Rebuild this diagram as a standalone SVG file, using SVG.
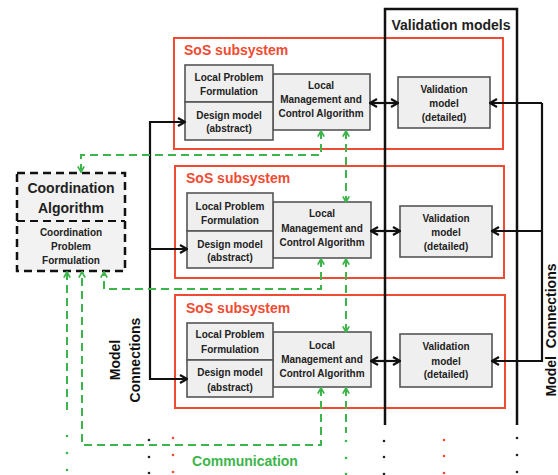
<svg xmlns="http://www.w3.org/2000/svg" width="558" height="475" viewBox="0 0 558 475">
<defs>
<marker id="ab" viewBox="0 0 10 10" refX="9" refY="5" markerWidth="10" markerHeight="10" markerUnits="userSpaceOnUse" orient="auto-start-reverse">
<path d="M2,1 L9,5 L2,9" fill="none" stroke="#111" stroke-width="2.2"/>
</marker>
<marker id="ag" viewBox="0 0 10 10" refX="9" refY="5" markerWidth="8" markerHeight="8" markerUnits="userSpaceOnUse" orient="auto-start-reverse">
<path d="M2,1 L9,5 L2,9" fill="none" stroke="#3cb54a" stroke-width="2.2"/>
</marker>
</defs>
<style>
text{font-family:"Liberation Sans",Arial,sans-serif;font-weight:bold;}
.bx{fill:#efefef;stroke:#555;stroke-width:1.6;}
.sos{fill:none;stroke:#f04b32;stroke-width:2;}
.t10{font-size:10px;fill:#222;text-anchor:middle;}
.red{font-size:14px;fill:#f04b32;}
.blk{fill:none;stroke:#111;stroke-width:2.2;}
.grn{fill:none;stroke:#3cb54a;stroke-width:2;stroke-dasharray:8,5;}
.gd{fill:#3cb54a;}
.kd{fill:#222;}
.rd{fill:#f04b32;}
</style>

<g id="sos1">
<rect class="sos" x="174" y="38" width="329" height="111"/>
<text class="red" x="184" y="55">SoS subsystem</text>
<rect class="bx" x="273" y="74" width="97" height="56"/>
<text class="t10" x="321" y="89">Local</text>
<text class="t10" x="321" y="103">Management and</text>
<text class="t10" x="321" y="117">Control Algorithm</text>
<rect class="bx" x="185" y="65" width="88" height="37"/>
<text class="t10" x="229" y="81">Local Problem</text>
<text class="t10" x="229" y="95">Formulation</text>
<rect class="bx" x="185" y="102" width="88" height="38"/>
<text class="t10" x="229" y="119">Design model</text>
<text class="t10" x="229" y="132">(abstract)</text>
<rect class="bx" x="398" y="77" width="92" height="51"/>
<text class="t10" x="444" y="93">Validation</text>
<text class="t10" x="444" y="107">model</text>
<text class="t10" x="444" y="121">(detailed)</text>
</g>

<g id="sos2">
<rect class="sos" x="175" y="166" width="329" height="112"/>
<text class="red" x="186" y="183">SoS subsystem</text>
<rect class="bx" x="273" y="202" width="98" height="56"/>
<text class="t10" x="322" y="217">Local</text>
<text class="t10" x="322" y="232">Management and</text>
<text class="t10" x="322" y="246">Control Algorithm</text>
<rect class="bx" x="187" y="193" width="86" height="38"/>
<text class="t10" x="230" y="210">Local Problem</text>
<text class="t10" x="230" y="224">Formulation</text>
<rect class="bx" x="187" y="231" width="86" height="37"/>
<text class="t10" x="230" y="248">Design model</text>
<text class="t10" x="230" y="261">(abstract)</text>
<rect class="bx" x="400" y="206" width="92" height="51"/>
<text class="t10" x="446" y="222">Validation</text>
<text class="t10" x="446" y="236">model</text>
<text class="t10" x="446" y="250">(detailed)</text>
</g>

<g id="sos3">
<rect class="sos" x="175" y="295" width="330" height="113"/>
<text class="red" x="186" y="313">SoS subsystem</text>
<rect class="bx" x="273" y="332" width="98" height="55"/>
<text class="t10" x="322" y="349">Local</text>
<text class="t10" x="322" y="363">Management and</text>
<text class="t10" x="322" y="377">Control Algorithm</text>
<rect class="bx" x="187" y="323" width="86" height="37"/>
<text class="t10" x="230" y="338">Local Problem</text>
<text class="t10" x="230" y="353">Formulation</text>
<rect class="bx" x="187" y="360" width="86" height="37"/>
<text class="t10" x="230" y="376">Design model</text>
<text class="t10" x="230" y="391">(abstract)</text>
<rect class="bx" x="400" y="334" width="92" height="53"/>
<text class="t10" x="446" y="350">Validation</text>
<text class="t10" x="446" y="365">model</text>
<text class="t10" x="446" y="378">(detailed)</text>
</g>

<g id="validation-models">
<path d="M385,425 V9 H517 V425" fill="none" stroke="#111" stroke-width="2.5"/>
<text x="451" y="30" font-size="14" fill="#222" text-anchor="middle">Validation models</text>
</g>

<g id="coordination">
<rect x="17" y="173" width="108" height="98" fill="#f2f2f2" stroke="#111" stroke-width="2.5" stroke-dasharray="8,5"/>
<line x1="17" y1="221" x2="125" y2="221" stroke="#111" stroke-width="2" stroke-dasharray="8,5"/>
<text x="71" y="193" font-size="14" fill="#222" text-anchor="middle">Coordination</text>
<text x="71" y="213" font-size="14" fill="#222" text-anchor="middle">Algorithm</text>
<text class="t10" x="71" y="236">Coordination</text>
<text class="t10" x="71" y="250">Problem</text>
<text class="t10" x="71" y="264">Formulation</text>
</g>

<g id="connectors">
<path class="blk" d="M185,122 H150 V379 H187" marker-start="url(#ab)" marker-end="url(#ab)"/>
<path class="blk" d="M150,249 H187" marker-end="url(#ab)"/>
<path class="blk" d="M370,103 H398" marker-start="url(#ab)" marker-end="url(#ab)"/>
<path class="blk" d="M371,231 H400" marker-start="url(#ab)" marker-end="url(#ab)"/>
<path class="blk" d="M371,361 H400" marker-start="url(#ab)" marker-end="url(#ab)"/>
<path class="blk" d="M542,103 H490" marker-end="url(#ab)"/>
<path class="blk" d="M542,103 V361 H492" marker-end="url(#ab)"/>
<path class="blk" d="M542,231 H492" marker-end="url(#ab)"/>

<path class="grn" d="M321,131 V155 H81 V172" marker-start="url(#ag)" marker-end="url(#ag)"/>
<path class="grn" d="M346,131 V202" marker-start="url(#ag)" marker-end="url(#ag)"/>
<path class="grn" d="M321,259 V289 H104 V272" marker-start="url(#ag)" marker-end="url(#ag)"/>
<path class="grn" d="M346,259 V332" marker-start="url(#ag)" marker-end="url(#ag)"/>
<path class="grn" d="M321,388 V445 H82 V272" marker-start="url(#ag)" marker-end="url(#ag)"/>
<path class="grn" d="M346,388 V433" marker-start="url(#ag)"/>
<path class="grn" d="M67,272 V415" marker-start="url(#ag)"/>
</g>

<g id="dots">
<circle class="gd" cx="67" cy="436" r="1.3"/><circle class="gd" cx="67" cy="453" r="1.3"/><circle class="gd" cx="67" cy="470" r="1.3"/>
<circle class="kd" cx="149" cy="440" r="1.3"/><circle class="kd" cx="149" cy="457" r="1.3"/><circle class="kd" cx="149" cy="473" r="1.3"/>
<circle class="rd" cx="173" cy="438" r="1.3"/><circle class="rd" cx="173" cy="455" r="1.3"/><circle class="rd" cx="173" cy="472" r="1.3"/>
<circle class="gd" cx="346" cy="441" r="1.3"/><circle class="gd" cx="346" cy="458" r="1.3"/><circle class="gd" cx="346" cy="474" r="1.3"/>
<circle class="kd" cx="384" cy="441" r="1.3"/><circle class="kd" cx="384" cy="457" r="1.3"/><circle class="kd" cx="384" cy="474" r="1.3"/>
<circle class="rd" cx="444" cy="440" r="1.3"/><circle class="rd" cx="444" cy="456" r="1.3"/><circle class="rd" cx="444" cy="473" r="1.3"/>
<circle class="kd" cx="517" cy="438" r="1.3"/><circle class="kd" cx="517" cy="455" r="1.3"/><circle class="kd" cx="517" cy="472" r="1.3"/>
</g>

<g id="labels">
<text x="245" y="466" font-size="14" fill="#3cb54a" text-anchor="middle">Communication</text>
<text transform="translate(120,360) rotate(-90)" font-size="14" fill="#111" text-anchor="middle">Model</text>
<text transform="translate(140,360) rotate(-90)" font-size="14" fill="#111" text-anchor="middle">Connections</text>
<text transform="translate(556,330) rotate(-90)" font-size="14" fill="#111" text-anchor="middle" xml:space="preserve">Model  Connections</text>
</g>
</svg>
